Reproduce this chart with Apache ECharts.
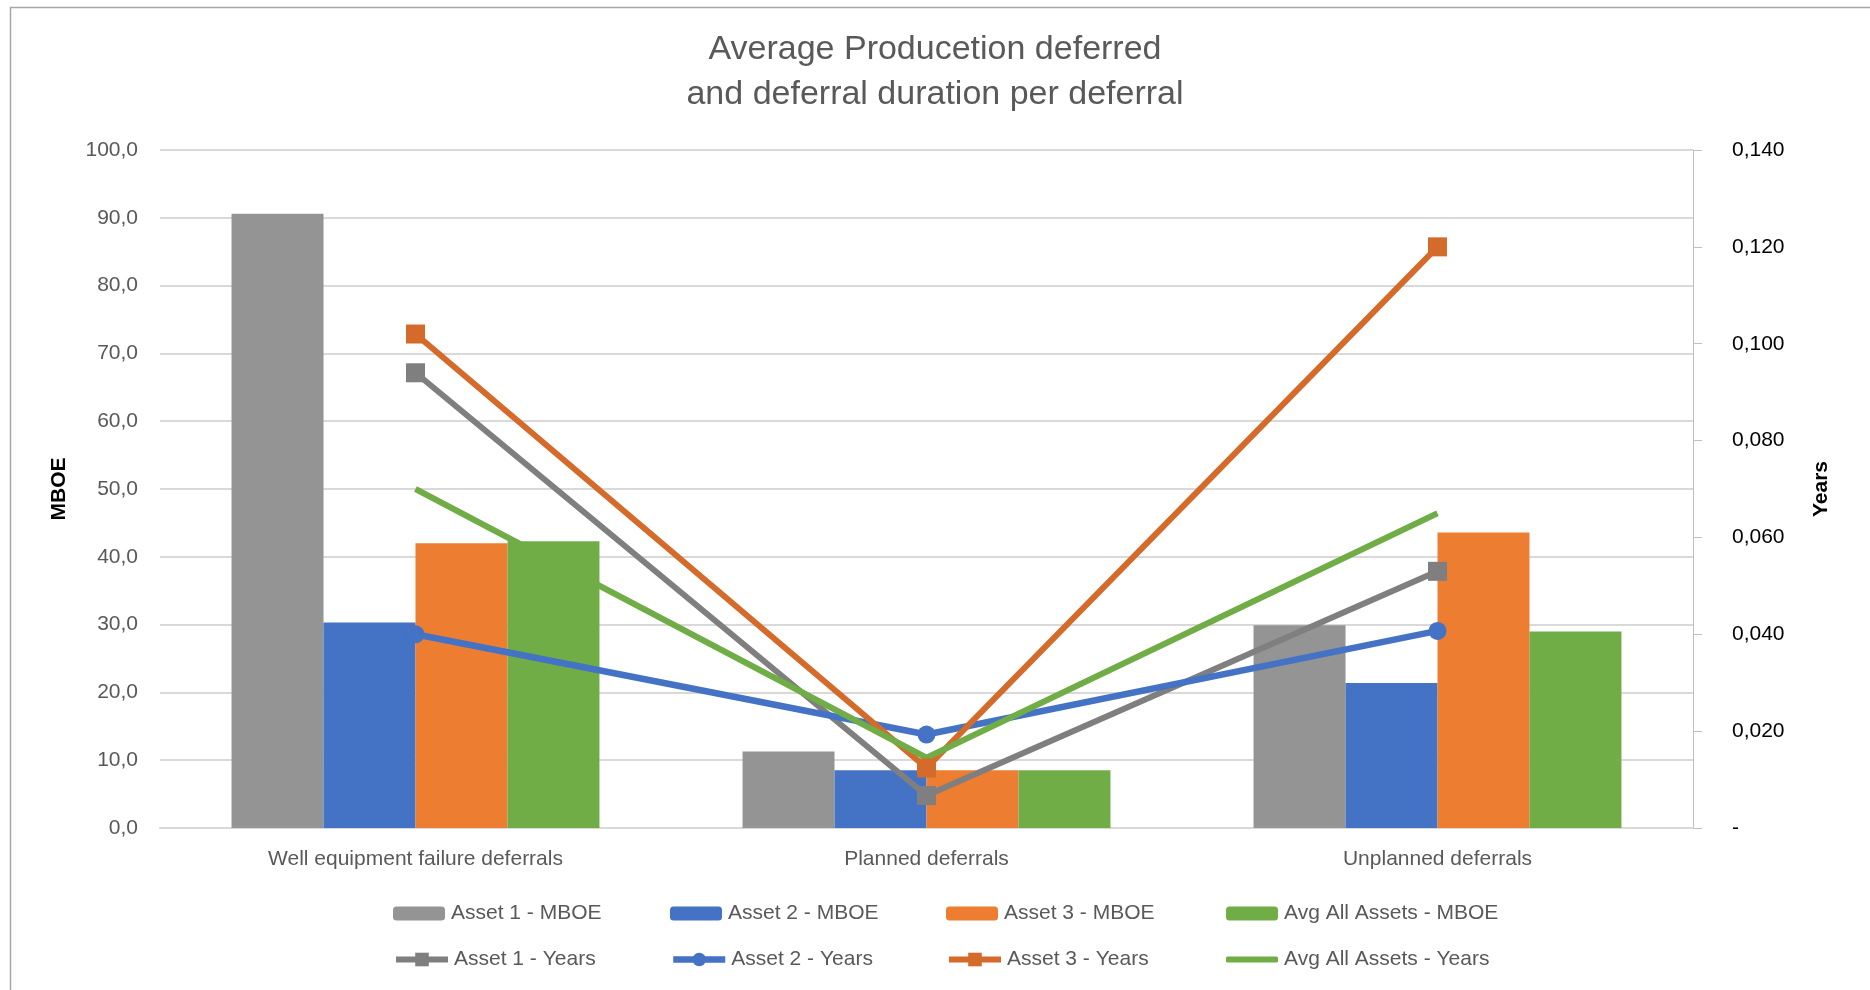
<!DOCTYPE html>
<html>
<head>
<meta charset="utf-8">
<script src="https://cdn.jsdelivr.net/npm/echarts@6/dist/echarts.min.js"></script>
<style>
  html, body { margin: 0; padding: 0; background: #ffffff; }
  #chart { width: 1870px; height: 990px; }
</style>
</head>
<body>
<div id="chart"></div>
<script>
// Deferral categories
const categories = ['Well equipment failure deferrals', 'Planned deferrals', 'Unplanned deferrals'];

// Average production deferred per deferral (MBOE)
const asset1Mboe = [90.6, 11.3, 29.9];
const asset2Mboe = [30.3, 8.5, 21.4];
const asset3Mboe = [42.0, 8.5, 43.6];
const avgMboe    = [42.3, 8.5, 29.0];

// Average deferral duration per deferral (years)
const asset1Years = [0.094, 0.0067, 0.053];
const asset2Years = [0.040, 0.0193, 0.0407];
const asset3Years = [0.102, 0.0124, 0.120];
const avgYears    = [0.070, 0.0145, 0.065];

// Series names, in legend order
const barNames  = ['Asset 1 - MBOE', 'Asset 2 - MBOE', 'Asset 3 - MBOE', 'Avg All Assets - MBOE'];
const lineNames = ['Asset 1 - Years', 'Asset 2 - Years', 'Asset 3 - Years', 'Avg All Assets - Years'];

const FONT = '"Liberation Sans", Arial, sans-serif';
const TEXT_GREY = '#595959';

const barColors  = ['#949494', '#4472C4', '#ED7D31', '#70AD47'];
const lineColors = ['#7F7F7F', '#4472C4', '#D46B2A', '#70AD47'];

const chart = echarts.init(document.getElementById('chart'), null, { renderer: 'canvas' });

function commaDecimal(v, digits) {
  return v.toFixed(digits).replace('.', ',');
}

function barSeries(name, data, color) {
  return {
    name: name,
    type: 'bar',
    yAxisIndex: 0,
    data: data,
    barGap: '0%',
    barCategoryGap: '28%',
    itemStyle: { color: color },
    z: 2
  };
}

function lineSeries(name, data, color, symbol, symbolSize, width) {
  return {
    name: name,
    type: 'line',
    yAxisIndex: 1,
    data: data,
    symbol: symbol,
    symbolSize: symbolSize,
    showSymbol: symbol !== 'none',
    lineStyle: { color: color, width: width },
    itemStyle: { color: color },
    z: 5
  };
}

// One legend block per entry so the entries sit on a fixed grid
const legendCols = [393, 670, 946, 1226];
const legendRows = [903, 949];
const legendText = { fontFamily: FONT, fontSize: 21, color: TEXT_GREY, padding: [0, 0, 0, 1] };

const legends = [];
barNames.forEach((n, i) => legends.push({
  data: [n],
  left: legendCols[i],
  top: legendRows[0],
  padding: 0,
  itemWidth: 52,
  itemHeight: 14,
  textStyle: legendText
}));
lineNames.forEach((n, i) => {
  const isAvg = i === 3;
  legends.push({
    data: [isAvg ? { name: n, icon: 'roundRect' } : n],
    left: legendCols[i],
    top: legendRows[1],
    padding: 0,
    itemWidth: 52,
    itemHeight: isAvg ? 6 : 17,
    lineStyle: { width: 'inherit' },
    textStyle: legendText
  });
});

const option = {
  backgroundColor: '#ffffff',
  animation: false,
  title: {
    text: 'Average Producetion deferred\nand deferral duration per deferral',
    left: 'center',
    top: 27,
    padding: 0,
    textStyle: {
      fontFamily: FONT,
      fontSize: 34,
      fontWeight: 'normal',
      color: TEXT_GREY,
      lineHeight: 45
    }
  },
  legend: legends,
  grid: { left: 160, right: 177, top: 150, bottom: 162, containLabel: false },
  xAxis: {
    type: 'category',
    data: categories,
    axisLine: { show: true, lineStyle: { color: '#d9d9d9', width: 2 } },
    axisTick: { show: false },
    axisLabel: { fontFamily: FONT, fontSize: 21, color: TEXT_GREY, margin: 21 }
  },
  yAxis: [
    {
      type: 'value',
      min: 0,
      max: 100,
      interval: 10,
      name: 'MBOE',
      nameLocation: 'middle',
      nameGap: 90,
      nameRotate: 90,
      nameTextStyle: { fontFamily: FONT, fontSize: 21, fontWeight: 'bold', color: '#000000' },
      axisLine: { show: false },
      axisTick: { show: false },
      splitLine: { show: true, lineStyle: { color: '#d9d9d9', width: 2 } },
      axisLabel: {
        fontFamily: FONT, fontSize: 21, color: TEXT_GREY, margin: 22,
        formatter: v => commaDecimal(v, 1)
      }
    },
    {
      type: 'value',
      min: 0,
      max: 0.14,
      interval: 0.02,
      position: 'right',
      name: 'Years',
      nameLocation: 'middle',
      nameGap: 118,
      nameRotate: 90,
      nameTextStyle: { fontFamily: FONT, fontSize: 21, fontWeight: 'bold', color: '#000000' },
      axisLine: { show: true, lineStyle: { color: '#bfbfbf', width: 1 } },
      axisTick: { show: true, length: 9, lineStyle: { color: '#bfbfbf' } },
      splitLine: { show: false },
      axisLabel: {
        fontFamily: FONT, fontSize: 21, color: '#000000', margin: 39,
        formatter: v => (v === 0 ? '-' : commaDecimal(v, 3))
      }
    }
  ],
  graphic: [
    {
      type: 'rect',
      left: 8,
      top: 5,
      shape: { width: 1880, height: 1000 },
      style: { fill: 'none', stroke: '#a6a6a6', lineWidth: 1.5 },
      silent: true,
      z: -1
    }
  ],
  series: [
    barSeries(barNames[0], asset1Mboe, barColors[0]),
    barSeries(barNames[1], asset2Mboe, barColors[1]),
    barSeries(barNames[2], asset3Mboe, barColors[2]),
    barSeries(barNames[3], avgMboe, barColors[3]),
    lineSeries(lineNames[0], asset1Years, lineColors[0], 'rect', 19, 6),
    lineSeries(lineNames[1], asset2Years, lineColors[1], 'circle', 18, 6.5),
    lineSeries(lineNames[2], asset3Years, lineColors[2], 'rect', 19, 6),
    lineSeries(lineNames[3], avgYears, lineColors[3], 'none', 0, 6)
  ]
};

chart.setOption(option);
</script>
</body>
</html>
